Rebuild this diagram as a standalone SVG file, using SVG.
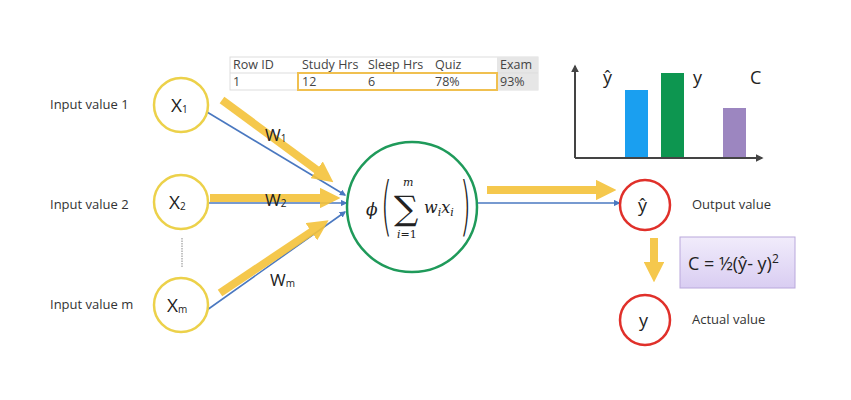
<svg xmlns="http://www.w3.org/2000/svg" width="851" height="400" viewBox="0 0 851 400">
<defs>
<style>
.lbl{font-family:"Open Sans","Liberation Sans",sans-serif;font-size:13px;fill:#333}
.tbl{font-family:"Open Sans","Liberation Sans",sans-serif;font-size:12.5px;fill:#444}
.in{fill:#fff;stroke:#ecd14a;stroke-width:2.5}
.out{fill:#fff;stroke:#e0302a;stroke-width:2.5}
.node{font-family:"Open Sans","Liberation Sans",sans-serif;font-size:19px;fill:#222}
.sub{font-size:10px}
.blue{stroke:#4a78c0;stroke-width:1.6;fill:none}
.yel{stroke:#f5c33a;stroke-width:8;fill:none;opacity:0.9}
.math{font-family:"DejaVu Serif","Liberation Serif",serif;font-style:italic;fill:#222}
</style>
<marker id="yh" viewBox="0 0 10 10" refX="5" refY="5" markerWidth="2.6" markerHeight="2.6" orient="auto" markerUnits="strokeWidth"><path d="M0,0 L10,5 L0,10 z" fill="#f5c33a"/></marker>
<marker id="bh" viewBox="0 0 10 10" refX="8" refY="5" markerWidth="4" markerHeight="4" orient="auto" markerUnits="strokeWidth"><path d="M0,0 L10,5 L0,10 z" fill="#4a78c0"/></marker>
<marker id="ax" viewBox="0 0 10 10" refX="8" refY="5" markerWidth="4" markerHeight="4" orient="auto" markerUnits="strokeWidth"><path d="M0,0 L10,5 L0,10 z" fill="#444"/></marker>
<linearGradient id="pg" x1="0" y1="0" x2="0" y2="1"><stop offset="0" stop-color="#f1ecfb"/><stop offset="1" stop-color="#d9cdf2"/></linearGradient>
</defs>
<rect width="851" height="400" fill="#fff"/>

<g id="table">
<rect x="230" y="57" width="308" height="33" fill="#fff" stroke="#ddd" stroke-width="1"/>
<rect x="497" y="57" width="41" height="33" fill="#e6e6e6"/>
<line x1="230" y1="73" x2="538" y2="73" stroke="#ddd"/>
<rect x="298" y="73" width="199" height="17" fill="none" stroke="#f0c050" stroke-width="2"/>
<text class="tbl" x="233" y="69">Row ID</text>
<text class="tbl" x="302" y="69">Study Hrs</text>
<text class="tbl" x="368" y="69">Sleep Hrs</text>
<text class="tbl" x="435" y="69">Quiz</text>
<text class="tbl" x="500" y="69">Exam</text>
<text class="tbl" x="233" y="86">1</text>
<text class="tbl" x="302" y="86">12</text>
<text class="tbl" x="368" y="86">6</text>
<text class="tbl" x="435" y="86">78%</text>
<text class="tbl" x="500" y="86">93%</text>
</g>

<g id="chart">
<line x1="575" y1="158" x2="575" y2="66" stroke="#444" stroke-width="2" marker-end="url(#ax)"/>
<line x1="575" y1="158" x2="762" y2="158" stroke="#444" stroke-width="2" marker-end="url(#ax)"/>
<rect x="625" y="90" width="23" height="67" fill="#1a9ff0"/>
<rect x="661" y="73" width="23" height="84" fill="#0d9650"/>
<rect x="723" y="108" width="23" height="49" fill="#9c86c0"/>
<text class="node" x="603" y="84" style="font-size:18px">ŷ</text>
<text class="node" x="693" y="84" style="font-size:18px">y</text>
<text class="node" x="750" y="84" style="font-size:18px">C</text>
</g>

<g id="connectors">
<line class="blue" x1="207" y1="112" x2="345" y2="195" marker-end="url(#bh)"/>
<line class="blue" x1="209" y1="203" x2="346" y2="203" marker-end="url(#bh)"/>
<line class="blue" x1="207" y1="310" x2="345" y2="212" marker-end="url(#bh)"/>
<line class="blue" x1="477" y1="203" x2="619" y2="203" marker-end="url(#bh)"/>
<line class="yel" x1="222" y1="100" x2="325" y2="176" marker-end="url(#yh)"/>
<line class="yel" x1="210" y1="198" x2="330" y2="198" marker-end="url(#yh)"/>
<line class="yel" x1="220" y1="293" x2="320" y2="226" marker-end="url(#yh)"/>
<line class="yel" x1="487" y1="190" x2="606" y2="190" marker-end="url(#yh)"/>
<line class="yel" x1="654" y1="238" x2="654" y2="272" marker-end="url(#yh)"/>
<line x1="182" y1="238" x2="182" y2="268" stroke="#888" stroke-width="1" stroke-dasharray="1.5,1"/>
<text class="node" x="265" y="141" style="font-size:17px">W<tspan class="sub" dy="1">1</tspan></text>
<text class="node" x="265" y="206" style="font-size:17px">W<tspan class="sub" dy="1">2</tspan></text>
<text class="node" x="270" y="286" style="font-size:17px">W<tspan class="sub" dy="1">m</tspan></text>
</g>

<g id="x1">
<text class="lbl" x="50" y="109">Input value 1</text>
<circle class="in" cx="181" cy="105" r="27"/>
<text class="node" x="171" y="112">X<tspan class="sub" dy="1">1</tspan></text>
</g>
<g id="x2">
<text class="lbl" x="50" y="209">Input value 2</text>
<circle class="in" cx="181" cy="202" r="27"/>
<text class="node" x="169" y="209">X<tspan class="sub" dy="1">2</tspan></text>
</g>
<g id="xm">
<text class="lbl" x="50" y="309">Input value m</text>
<circle class="in" cx="181" cy="305" r="27"/>
<text class="node" x="167" y="312">X<tspan class="sub" dy="1">m</tspan></text>
</g>

<g id="neuron">
<circle cx="412" cy="207" r="65" fill="#fff" stroke="#1f9a5a" stroke-width="2.5"/>
<text class="math" x="366" y="215" font-size="17">ϕ</text>
<text font-family="DejaVu Sans,sans-serif" font-size="56" fill="#222" transform="translate(381 228) scale(0.5 1.15)" font-weight="200">(</text>
<text x="394" y="220" font-family="DejaVu Serif,serif" font-size="34" fill="#222">∑</text>
<text class="math" x="403" y="186" font-size="11">m</text>
<text x="397" y="238" font-family="DejaVu Serif,serif" font-size="11" fill="#222"><tspan font-style="italic">i</tspan>=1</text>
<text class="math" x="424" y="213" font-size="16">w<tspan font-size="11" dy="3">i</tspan><tspan dy="-3">x</tspan><tspan font-size="11" dy="3">i</tspan></text>
<text font-family="DejaVu Sans,sans-serif" font-size="56" fill="#222" transform="translate(460 228) scale(0.5 1.15)" font-weight="200">)</text>
</g>

<g id="yhat">
<circle class="out" cx="645" cy="205" r="25"/>
<text class="node" x="638" y="212" style="font-size:18px">ŷ</text>
<text class="lbl" x="692" y="209">Output value</text>
</g>

<g id="cost">
<rect x="680" y="237" width="115" height="51" fill="url(#pg)" stroke="#b9a8dc" stroke-width="1"/>
<text class="node" x="688" y="270" style="font-size:18px">C = ½(ŷ- y)<tspan font-size="12" dy="-7">2</tspan></text>
</g>

<g id="y">
<circle class="out" cx="645" cy="320" r="25"/>
<text class="node" x="639" y="327" style="font-size:18px">y</text>
<text class="lbl" x="692" y="324">Actual value</text>
</g>
</svg>
